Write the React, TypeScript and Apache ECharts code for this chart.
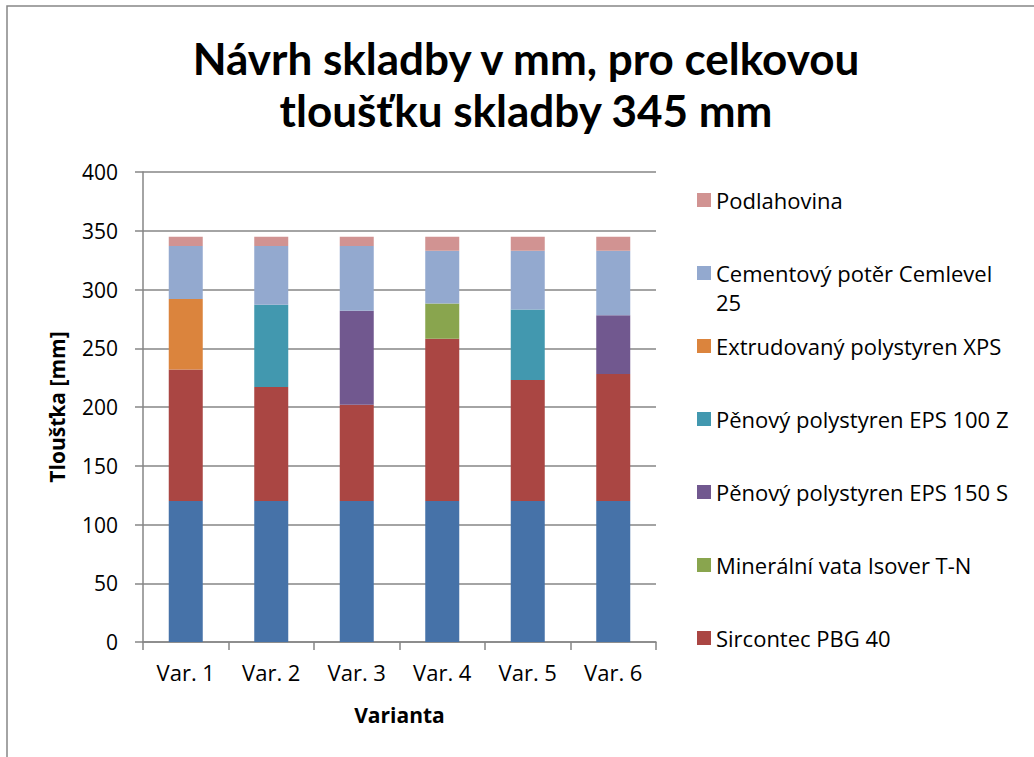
import React, { useEffect, useRef } from "react";
import * as echarts from "echarts";

const categories = ["Var. 1", "Var. 2", "Var. 3", "Var. 4", "Var. 5", "Var. 6"];
const yTicks = { min: 0, max: 400, interval: 50 };

const baseName = "Nosná konstrukce";
const baseValues = [120, 120, 120, 120, 120, 120];
const sircontec = [112, 97, 82, 138, 103, 108];
const mineralni = [0, 0, 0, 30, 0, 0];
const eps150 = [0, 0, 80, 0, 0, 50];
const eps100 = [0, 70, 0, 0, 60, 0];
const xps = [60, 0, 0, 0, 0, 0];
const cement = [45, 50, 55, 45, 50, 55];
const podlahovina = [8, 8, 8, 12, 12, 12];

const seriesDefs = [
  { name: baseName, data: baseValues, color: "#4672A8" },
  { name: "Sircontec PBG 40", data: sircontec, color: "#AA4643" },
  { name: "Minerální vata Isover T-N", data: mineralni, color: "#89A54E" },
  { name: "Pěnový polystyren EPS 150 S", data: eps150, color: "#71588F" },
  { name: "Pěnový polystyren EPS 100 Z", data: eps100, color: "#4298AF" },
  { name: "Extrudovaný polystyren XPS", data: xps, color: "#DB843D" },
  { name: "Cementový potěr Cemlevel 25", data: cement, color: "#93A9CF" },
  { name: "Podlahovina", data: podlahovina, color: "#D19392" },
];

const legendNames = [
  "Podlahovina",
  "Cementový potěr Cemlevel 25",
  "Extrudovaný polystyren XPS",
  "Pěnový polystyren EPS 100 Z",
  "Pěnový polystyren EPS 150 S",
  "Minerální vata Isover T-N",
  "Sircontec PBG 40",
];
const legendCenters = [200, 273, 346, 419, 492, 565, 638];

const titleText = "Návrh skladby v mm, pro celkovou\ntloušťku skladby 345 mm";

export default function App() {
  const ref = useRef<HTMLDivElement>(null);
  useEffect(() => {
    if (!ref.current) return;
    const chart = echarts.init(ref.current, null, { renderer: "svg" });
    const gray = "#868686";
    const font = "Open Sans";
    const legends = legendNames.map((name, i) => {
      const wrap = name === "Cementový potěr Cemlevel 25";
      return {
        data: [name],
        left: 697,
        top: wrap ? legendCenters[i] - 43.5 : legendCenters[i] - 13,
        orient: "vertical",
        padding: 0,
        itemWidth: 14,
        itemHeight: 14,
        itemGap: 0,
        icon: "rect",
        selectedMode: false,
        formatter: wrap ? () => " \nCementový potěr Cemlevel\n25" : undefined,
        textStyle: wrap
          ? { fontFamily: font, fontSize: 22, color: "#000", lineHeight: 29 }
          : { fontFamily: font, fontSize: 22, color: "#000", lineHeight: 26 },
      };
    });
    chart.setOption({
      animation: false,
      backgroundColor: "#fff",
      grid: { left: 143, right: 1034 - 656, top: 172, bottom: 757 - 642 },
      legend: legends,
      graphic: [
        {
          type: "rect",
          shape: { x: 7, y: 6, width: 1100, height: 800 },
          style: { fill: "none", stroke: gray, lineWidth: 1.5 },
          silent: true,
          z: -10,
        },
        {
          type: "text",
          x: 526,
          y: 32,
          style: {
            text: titleText,
            fontFamily: "Lato",
            fontWeight: "bold",
            fontSize: 44,
            lineHeight: 52,
            textAlign: "center",
            textVerticalAlign: "top",
            fill: "#000",
          },
        },
      ],
      xAxis: {
        type: "category",
        data: categories,
        name: "Varianta",
        nameLocation: "middle",
        nameGap: 62,
        nameTextStyle: { fontFamily: font, fontSize: 21, fontWeight: "bold", color: "#000" },
        axisLine: { lineStyle: { color: gray, width: 1.5 } },
        axisTick: { show: true, length: 8, alignWithLabel: false, lineStyle: { color: gray, width: 1.5 } },
        axisLabel: { fontFamily: font, fontSize: 22, color: "#000", margin: 19 },
      },
      yAxis: {
        type: "value",
        min: yTicks.min,
        max: yTicks.max,
        interval: yTicks.interval,
        name: "Tloušťka [mm]",
        nameLocation: "middle",
        nameGap: 76,
        nameTextStyle: { fontFamily: font, fontSize: 21, fontWeight: "bold", color: "#000" },
        axisLine: { show: true, lineStyle: { color: gray, width: 1.5 } },
        axisTick: { show: true, length: 8, lineStyle: { color: gray, width: 1.5 } },
        axisLabel: { fontFamily: font, fontSize: 21, color: "#000", margin: 25 },
        splitLine: { show: true, lineStyle: { color: gray, width: 1.5 } },
      },
      series: seriesDefs.map((s) => ({
        type: "bar",
        name: s.name,
        stack: "total",
        data: s.data,
        barWidth: 34,
        itemStyle: { color: s.color },
      })),
    });
    return () => chart.dispose();
  }, []);
  return (
    <div
      ref={ref}
      style={{ position: "fixed", left: 0, top: 0, width: 1034, height: 757 }}
    />
  );
}
